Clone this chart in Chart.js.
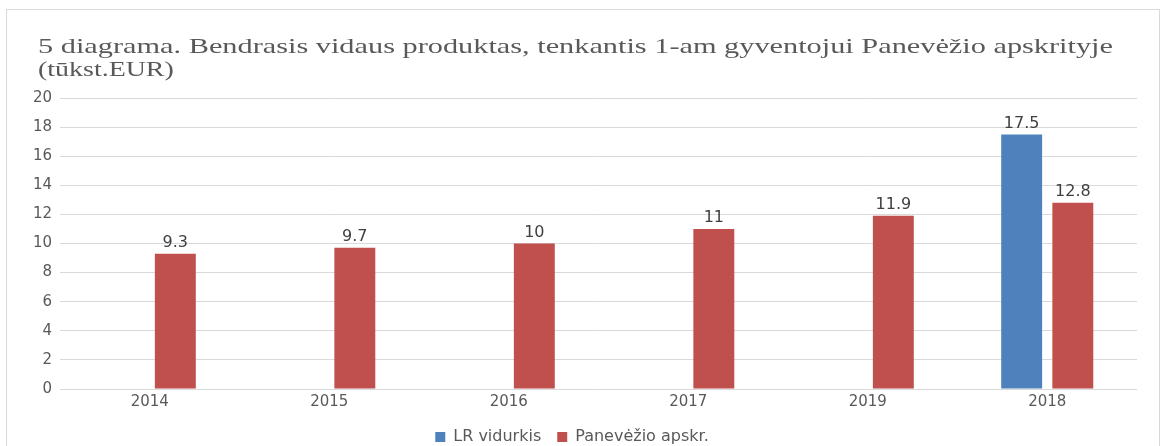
<!DOCTYPE html>
<html>
<head>
<meta charset="utf-8">
<script src="https://cdn.jsdelivr.net/npm/chart.js@4.4.1/dist/chart.umd.min.js"></script>
<style>
    html, body { margin: 0; padding: 0; background: #fff; overflow: hidden; }
    #box {
        position: absolute; left: 6px; top: 9px;
        width: 1152px; height: 446px;
        border: 1px solid #d9d9d9; border-bottom: none;
    }
    #chart { display: block; }
</style>
</head>
<body>
<div id="box"><canvas id="chart" width="1152" height="445"></canvas></div>
<script>
// Values.
const years = ["2014", "2015", "2016", "2017", "2019", "2018"];
const lrAverage = [null, null, null, null, null, 17.5];
const panevezys = [9.3, 9.7, 10, 11, 11.9, 12.8];
const titleLines = [
    "5 diagrama. Bendrasis vidaus produktas, tenkantis 1-am gyventojui Panevėžio apskrityje",
    "(tūkst.EUR)"
];

const textColor = "#595959";
const tickFont = { family: "DejaVu Sans", size: 15 };

// Title drawn at the left of the frame, like the original.
const titlePlugin = {
    id: "leftTitle",
    afterDraw(chart) {
        let ctx = chart.ctx;
        ctx.save();
        ctx.fillStyle = textColor;
        ctx.font = "22px 'Liberation Serif'";
        ctx.textBaseline = "alphabetic";
        ctx.textAlign = "left";
        let lineY = [43, 66];
        titleLines.forEach(function (line, i) {
            // the source picture is slightly stretched sideways
            let w = ctx.measureText(line).width;
            let sx = i === 0 ? 1075 / w : 1.27;
            ctx.save();
            ctx.translate(31, lineY[i]);
            ctx.scale(sx, 1);
            ctx.fillText(line, 0, 0);
            ctx.restore();
        });
        ctx.restore();
    }
};

// Value labels above each bar.
const valueLabels = {
    id: "valueLabels",
    afterDatasetsDraw(chart) {
        let ctx = chart.ctx;
        ctx.save();
        ctx.fillStyle = "#404040";
        ctx.font = "16px 'DejaVu Sans'";
        ctx.textAlign = "center";
        ctx.textBaseline = "bottom";
        chart.data.datasets.forEach(function (ds, di) {
            chart.getDatasetMeta(di).data.forEach(function (bar, i) {
                let v = ds.data[i];
                if (v === null || v === undefined) return;
                ctx.fillText(String(v), bar.x, bar.y - 3);
            });
        });
        ctx.restore();
    }
};

let ctx = document.getElementById("chart").getContext("2d");
new Chart(ctx, {
    type: "bar",
    data: {
        labels: years,
        datasets: [
            {
                label: "LR vidurkis",
                data: lrAverage,
                backgroundColor: "#4F81BD",
                categoryPercentage: 0.57,
                barPercentage: 0.8
            },
            {
                label: "Panevėžio apskr.",
                data: panevezys,
                backgroundColor: "#C0504D",
                categoryPercentage: 0.57,
                barPercentage: 0.8
            }
        ]
    },
    options: {
        responsive: false,
        animation: false,
        layout: {
            padding: { top: 88, right: 22, left: 0, bottom: 0 }
        },
        scales: {
            x: {
                grid: { display: false, drawTicks: false },
                border: { display: false },
                ticks: { color: textColor, font: tickFont, padding: 4 },
                afterFit: function (scale) { scale.height = 24; }
            },
            y: {
                min: 0,
                max: 20,
                ticks: { stepSize: 2, color: textColor, font: tickFont, padding: 8 },
                grid: { color: "#d9d9d9", lineWidth: 1, drawTicks: false },
                border: { display: false },
                afterFit: function (scale) { scale.width = 53; }
            }
        },
        plugins: {
            title: { display: false },
            tooltip: { enabled: false },
            legend: {
                position: "bottom",
                labels: {
                    color: textColor,
                    font: { family: "DejaVu Sans", size: 16 },
                    boxWidth: 10,
                    boxHeight: 10,
                    padding: 16
                }
            }
        }
    },
    plugins: [titlePlugin, valueLabels]
});
</script>
</body>
</html>
